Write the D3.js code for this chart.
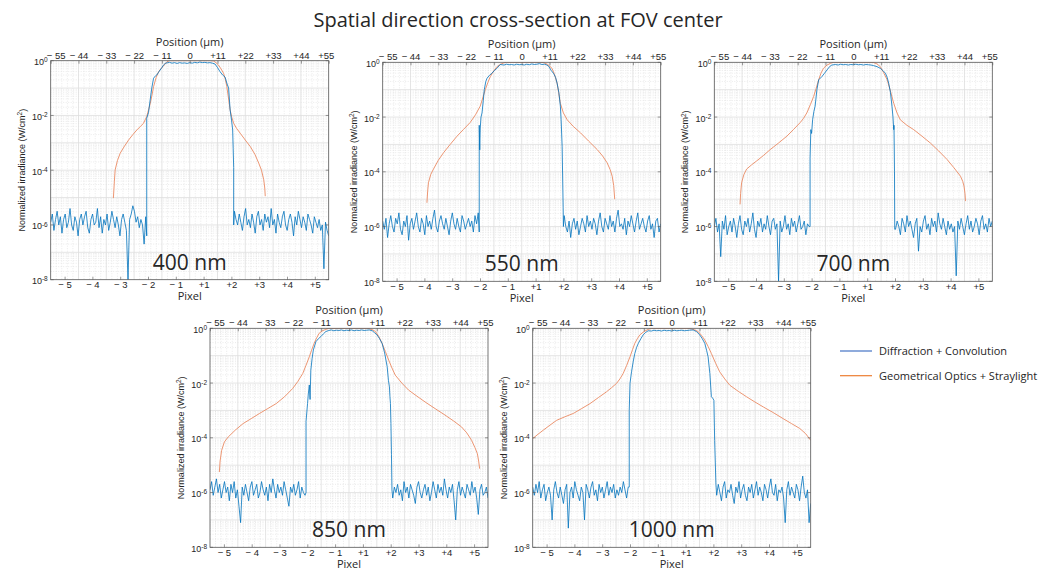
<!DOCTYPE html>
<html lang="en">
<head>
<meta charset="utf-8">
<title>Spatial direction cross-section at FOV center</title>
<script src="https://d3js.org/d3.v7.min.js"></script>
<style>
  body { margin: 0; background: #fff; }
  text { font-family: "Open Sans", sans-serif; fill: #262626; }
  .tick text { font-family: "Liberation Sans", Arial, sans-serif; font-size: 9.5px; fill: #262626; }
</style>
</head>
<body>
<script>
// ---- axis ticks ----
var umTicks = [-55, -44, -33, -22, -11, 0, 11, 22, 33, 44, 55];
var umTickLabels = ["\u2212 55", "\u2212 44", "\u2212 33", "\u2212 22", "\u2212 11", "0", "+11", "+22", "+33", "+44", "+55"];
var pixelTicks = [-49.5, -38.5, -27.5, -16.5, -5.5, 5.5, 16.5, 27.5, 38.5, 49.5]; // pixel centres in µm
var pixelTickLabels = ["\u2212 5", "\u2212 4", "\u2212 3", "\u2212 2", "\u2212 1", "+1", "+2", "+3", "+4", "+5"];
var yTickExp = [0, -2, -4, -6, -8];

var wavelengths = ["400 nm", "550 nm", "700 nm", "850 nm", "1000 nm"];

// ---- Geometrical Optics + Straylight: [position µm, log10 irradiance] ----
var orange400 = [[-30.2,-5.02],[-29.8,-4.4],[-29.5,-3.99],[-28.6,-3.65],[-27.5,-3.38],[-26,-3.15],[-24.2,-2.9],[-22.5,-2.7],[-20.9,-2.53],[-19.5,-2.4],[-18.3,-2.29],[-17,-2.04],[-16.3,-1.8],[-15.6,-1.56],[-14.9,-1.25],[-14.3,-0.95],[-13.3,-0.62],[-12.3,-0.4],[-11.3,-0.28],[-10.4,-0.2],[-9.6,-0.1],[-9,-0.04],[-8,0],[8,0],[9.4,-0.01],[10.4,-0.07],[11.4,-0.16],[12.4,-0.3],[13.4,-0.46],[14.1,-0.68],[14.7,-0.95],[15.4,-1.4],[16,-1.8],[16.7,-2.08],[17.4,-2.29],[18.6,-2.48],[20,-2.65],[22,-2.9],[24,-3.14],[25.8,-3.42],[27.3,-3.74],[28.4,-4.0],[29.3,-4.35],[29.7,-4.65],[29.9,-4.95]];
var orange550 = [[-37.5,-5.13],[-37.2,-4.7],[-36.9,-4.4],[-36,-4.1],[-34.9,-3.9],[-33,-3.58],[-30.9,-3.3],[-28.3,-3.0],[-25.6,-2.7],[-23,-2.45],[-20.4,-2.2],[-18.3,-1.92],[-16.4,-1.6],[-15.4,-1.3],[-14.4,-1.0],[-13.4,-0.74],[-12.4,-0.52],[-11.1,-0.32],[-9.8,-0.16],[-8.5,-0.08],[-7.1,-0.02],[-6,0],[7,0],[8.7,-0.01],[10.3,-0.08],[12,-0.22],[13,-0.45],[14,-0.76],[14.7,-1.15],[15.3,-1.5],[16.5,-1.85],[18,-2.1],[20.5,-2.35],[23.3,-2.58],[26.5,-2.88],[29.9,-3.19],[32,-3.42],[33.8,-3.67],[35,-3.92],[35.8,-4.16],[36.4,-4.5],[36.8,-5.0]];
var orange700 = [[-44.8,-5.19],[-44.6,-4.8],[-44.2,-4.4],[-43.3,-4.1],[-42.2,-3.9],[-40.3,-3.75],[-38.2,-3.6],[-35.5,-3.4],[-32.9,-3.19],[-29.6,-2.95],[-26.3,-2.7],[-23.6,-2.45],[-21,-2.2],[-19.7,-2.05],[-18.4,-1.85],[-17,-1.55],[-15.7,-1.25],[-14.7,-0.95],[-13.7,-0.64],[-12.8,-0.4],[-11.8,-0.22],[-10.4,-0.1],[-9.1,-0.04],[-8,0],[7,0],[8,-0.01],[9.4,-0.06],[10.7,-0.16],[12,-0.38],[13.4,-0.64],[14.7,-1.05],[16,-1.5],[17.3,-1.85],[18.6,-2.1],[21.2,-2.3],[23.9,-2.46],[27.2,-2.7],[30.5,-2.95],[33.8,-3.24],[37.1,-3.55],[39.8,-3.85],[42.4,-4.16],[43.3,-4.35],[43.8,-4.52],[44.2,-4.8],[44.4,-5.07]];
var orange850 = [[-51.3,-5.25],[-51,-4.85],[-50.4,-4.46],[-49.3,-4.15],[-47.8,-3.97],[-45,-3.72],[-41.9,-3.48],[-38.7,-3.3],[-35.4,-3.11],[-32.1,-2.93],[-28.8,-2.75],[-25.5,-2.5],[-22.3,-2.2],[-20.3,-1.95],[-18.3,-1.65],[-17,-1.35],[-15.7,-1.04],[-14.8,-0.8],[-13.8,-0.55],[-12.8,-0.35],[-11.8,-0.18],[-10.5,-0.09],[-9.2,-0.04],[-8,0],[7,0],[7.9,-0.01],[9.2,-0.05],[10.5,-0.12],[11.8,-0.3],[13.1,-0.55],[14.4,-0.85],[15.7,-1.16],[17,-1.45],[18.3,-1.71],[20.9,-2.0],[23.6,-2.26],[26.9,-2.48],[30.1,-2.69],[34,-2.93],[38,-3.17],[41.3,-3.38],[44.5,-3.6],[46.6,-3.82],[48.5,-4.09],[49.8,-4.35],[50.8,-4.58],[51.3,-4.85],[51.7,-5.13]];
var orange1000 = [[-55,-4.03],[-52.9,-3.87],[-50.8,-3.72],[-48.2,-3.54],[-45.5,-3.36],[-42.2,-3.23],[-38.9,-3.11],[-35.6,-2.93],[-32.3,-2.75],[-29,-2.53],[-25.8,-2.32],[-23.8,-2.17],[-21.8,-2.01],[-20.5,-1.85],[-19.2,-1.65],[-17.8,-1.35],[-16.5,-1.04],[-15.5,-0.78],[-14.6,-0.55],[-13.6,-0.38],[-12.6,-0.24],[-11,-0.12],[-9.3,-0.04],[-8,0],[6,0],[7.2,-0.01],[8.9,-0.05],[10.5,-0.12],[11.8,-0.26],[13.1,-0.43],[14.4,-0.66],[15.7,-0.92],[17.4,-1.28],[19,-1.59],[21,-1.85],[23,-2.08],[26.3,-2.3],[29.6,-2.5],[32.9,-2.69],[36.2,-2.87],[40.2,-3.08],[44.1,-3.3],[47.4,-3.48],[50.7,-3.66],[53,-3.85],[55,-4.09]];

// ---- Diffraction + Convolution, central part: [position µm, log10 irradiance] ----
var blueTop400 = [[-17,-6.4],[-17,-2.1],[-16.3,-1.9],[-15.6,-1.4],[-15,-1.0],[-14.3,-0.64],[-13.5,-0.55],[-13,-0.52],[-12.3,-0.42],[-11.7,-0.34],[-11,-0.25],[-10.4,-0.16],[-9.7,-0.1],[-9,-0.08],[-8,-0.06],[-7,-0.09],[-6,-0.07],[-5,-0.1],[-4,-0.07],[-3,-0.09],[-2,-0.08],[-1,-0.1],[0,-0.07],[1,-0.09],[2,-0.06],[3,-0.08],[4,-0.05],[5,-0.07],[6,-0.06],[7,-0.08],[8,-0.07],[9,-0.09],[10,-0.12],[11,-0.25],[12,-0.4],[13,-0.52],[14,-0.6],[14.8,-0.85],[15.4,-1.0],[16,-1.8],[16.6,-2.2],[17,-2.53],[17.2,-3.2],[17.4,-3.9],[17.4,-6.0]];
var blueTop550 = [[-16.8,-6.2],[-16.8,-2.3],[-16.6,-3.2],[-16.4,-2.4],[-16.1,-2.0],[-15.7,-1.85],[-15.2,-1.4],[-14.8,-1.0],[-14.2,-0.7],[-13.7,-0.58],[-12.8,-0.48],[-11.8,-0.4],[-10.8,-0.3],[-9.8,-0.22],[-8.5,-0.08],[-7,-0.1],[-6,-0.07],[-5,-0.09],[-4,-0.08],[-3,-0.1],[-2,-0.07],[-1,-0.09],[0,-0.08],[1,-0.1],[2,-0.07],[3,-0.09],[4,-0.06],[5,-0.08],[6,-0.07],[7,-0.05],[8,-0.08],[9,-0.07],[10,-0.1],[10.7,-0.15],[11.7,-0.3],[12.7,-0.42],[13.4,-0.55],[14,-0.76],[14.7,-1.1],[15.3,-1.6],[15.6,-2.1],[16,-3.07],[16.4,-5.3],[16.5,-6.0]];
var blueTop700 = [[-17.1,-6.0],[-17.1,-3.5],[-16.8,-2.46],[-16.5,-2.6],[-16.1,-2.1],[-15.6,-1.8],[-15.1,-1.6],[-14.4,-1.0],[-13.7,-0.64],[-12.4,-0.52],[-11.4,-0.4],[-10.4,-0.28],[-9.4,-0.16],[-8.5,-0.1],[-7,-0.08],[-6,-0.1],[-5,-0.07],[-4,-0.09],[-3,-0.08],[-2,-0.1],[-1,-0.08],[0,-0.09],[1,-0.07],[2,-0.09],[3,-0.08],[4,-0.1],[5,-0.08],[6,-0.09],[7,-0.1],[8,-0.12],[9.4,-0.16],[10.7,-0.22],[11.7,-0.3],[12.7,-0.4],[13.4,-0.55],[14,-0.76],[14.7,-1.1],[15.3,-1.6],[15.7,-2.0],[16,-2.46],[16.1,-2.3],[16.3,-4.0],[16.4,-6.1]];
var blueTop850 = [[-17,-6.0],[-17,-3.4],[-16.4,-2.75],[-16.1,-2.4],[-15.7,-2.07],[-15.4,-2.6],[-15.1,-1.53],[-14.6,-1.1],[-14.1,-0.79],[-13.1,-0.49],[-12.1,-0.38],[-11.1,-0.3],[-10.1,-0.2],[-9.2,-0.12],[-8,-0.08],[-7,-0.06],[-6,-0.09],[-5,-0.07],[-4,-0.08],[-3,-0.06],[-2,-0.09],[-1,-0.07],[0,-0.08],[1,-0.06],[2,-0.09],[3,-0.07],[4,-0.08],[5,-0.06],[6,-0.08],[7,-0.07],[8,-0.06],[9.2,-0.09],[10.1,-0.16],[11.1,-0.24],[12.1,-0.38],[13.1,-0.55],[14.1,-0.9],[15.1,-1.4],[15.6,-1.9],[16,-2.14],[16.2,-2.5],[16.4,-2.75],[16.6,-3.48],[16.8,-4.6],[17,-5.9]];
var blueTop1000 = [[-16.8,-5.8],[-16.8,-3.0],[-16.5,-2.01],[-15.9,-1.59],[-15.2,-1.2],[-14.6,-0.92],[-13.9,-0.7],[-13.2,-0.55],[-12.2,-0.38],[-11.3,-0.24],[-10.3,-0.15],[-9.3,-0.09],[-8,-0.1],[-7,-0.07],[-6,-0.09],[-5,-0.08],[-4,-0.1],[-3,-0.07],[-2,-0.09],[-1,-0.08],[0,-0.1],[1,-0.07],[2,-0.09],[3,-0.08],[4,-0.07],[5,-0.09],[6,-0.08],[7,-0.07],[8.5,-0.06],[9.8,-0.12],[11.1,-0.24],[12.1,-0.38],[13.1,-0.55],[13.8,-0.8],[14.4,-1.04],[15.1,-1.65],[15.7,-2.5],[16.2,-2.55],[16.7,-2.63],[17,-4.1],[17.5,-5.7]];

// ---- noise floor, log10 irradiance x10, sampled evenly between the edge and the frame ----
var floorLeft400 = [-59,-56,-62,-58,-55,-60,-57,-63,-58,-56,-61,-59,-54,-60,-62,-57,-59,-64,-58,-56,-60,-57,-55,-61,-63,-58,-56,-60,-59,-54,-61,-57,-63,-58,-60,-56,-62,-59,-55,-58,-61,-57,-60,-64,-58,-56,-59,-62,-80,-58,-56,-53,-55,-59,-57,-61,-58,-60,-67,-57];
var floorRight400 = [-55,-58,-60,-56,-59,-62,-57,-54,-60,-58,-61,-56,-59,-63,-57,-55,-60,-58,-62,-56,-59,-57,-61,-54,-60,-58,-63,-56,-59,-61,-57,-55,-60,-62,-58,-56,-59,-64,-57,-60,-55,-58,-61,-57,-59,-62,-56,-58,-60,-63,-57,-59,-61,-58,-62,-60,-76,-59,-62,-64];
var floorLeft550 = [-58,-61,-57,-64,-59,-56,-60,-62,-57,-59,-55,-61,-63,-58,-60,-56,-65,-59,-57,-61,-58,-55,-60,-62,-57,-59,-63,-56,-60,-58,-61,-57,-54,-60,-62,-58,-56,-59,-61,-57,-60,-63,-58,-55,-59,-61,-57,-60,-62,-56,-58,-61,-59,-57,-60,-58,-62,-56,-59,-55];
var floorRight550 = [-56,-60,-62,-58,-64,-59,-57,-61,-58,-63,-60,-57,-59,-62,-56,-60,-58,-61,-57,-59,-63,-58,-55,-60,-62,-57,-59,-61,-56,-60,-58,-62,-57,-54,-60,-59,-61,-57,-63,-58,-60,-56,-59,-62,-58,-55,-61,-59,-57,-60,-62,-58,-56,-61,-59,-64,-58,-57,-62,-59];
var floorLeft700 = [-60,-57,-62,-59,-71,-58,-61,-56,-63,-60,-58,-62,-57,-60,-64,-59,-56,-61,-63,-58,-60,-57,-62,-59,-55,-61,-64,-58,-60,-57,-62,-59,-61,-56,-60,-63,-58,-57,-61,-59,-80,-58,-62,-60,-56,-61,-59,-63,-57,-60,-58,-62,-59,-56,-61,-60,-58,-63,-59,-60];
var floorRight700 = [-61,-58,-60,-63,-57,-59,-62,-56,-60,-58,-61,-64,-59,-57,-69,-60,-62,-58,-56,-61,-59,-63,-57,-60,-58,-62,-55,-59,-61,-57,-60,-63,-58,-61,-59,-62,-60,-78,-58,-61,-57,-60,-63,-59,-56,-61,-58,-62,-60,-57,-59,-63,-58,-56,-61,-59,-62,-57,-60,-58];
var floorLeft850 = [-59,-56,-61,-58,-55,-60,-57,-62,-59,-56,-60,-58,-63,-57,-60,-56,-62,-59,-65,-71,-58,-61,-57,-60,-63,-58,-56,-61,-59,-57,-62,-60,-56,-59,-61,-58,-63,-57,-60,-55,-59,-62,-57,-60,-58,-61,-56,-59,-62,-65,-58,-60,-57,-61,-59,-56,-62,-58,-60,-61];
var floorRight850 = [-62,-58,-60,-57,-61,-59,-63,-56,-60,-58,-62,-57,-59,-61,-64,-58,-56,-60,-62,-59,-57,-61,-58,-63,-60,-56,-59,-62,-57,-60,-58,-61,-55,-59,-62,-58,-60,-57,-63,-70,-59,-56,-61,-58,-60,-62,-57,-59,-61,-56,-60,-58,-62,-68,-59,-57,-61,-60,-58,-62];
var floorLeft1000 = [-58,-61,-57,-60,-56,-62,-59,-57,-63,-60,-58,-61,-70,-59,-56,-60,-62,-58,-61,-64,-59,-57,-73,-60,-58,-62,-56,-59,-61,-63,-58,-60,-70,-57,-59,-62,-58,-56,-61,-59,-63,-57,-60,-58,-62,-59,-56,-61,-58,-60,-57,-62,-59,-61,-58,-60,-56,-59,-62,-58];
var floorRight1000 = [-61,-57,-60,-63,-58,-56,-62,-59,-60,-57,-61,-64,-58,-60,-56,-62,-59,-57,-61,-63,-58,-60,-57,-62,-59,-56,-61,-58,-60,-63,-57,-59,-62,-58,-55,-60,-61,-57,-63,-59,-60,-58,-62,-71,-59,-56,-61,-58,-60,-62,-57,-59,-63,-58,-54,-60,-62,-59,-71,-64];

var orangeSeries = [orange400, orange550, orange700, orange850, orange1000];
var blueTops = [blueTop400, blueTop550, blueTop700, blueTop850, blueTop1000];
var floorsLeft = [floorLeft400, floorLeft550, floorLeft700, floorLeft850, floorLeft1000];
var floorsRight = [floorRight400, floorRight550, floorRight700, floorRight850, floorRight1000];

// panel placement
var W = 278, H = 219;
var origins = [[50.7, 60.7], [382.7, 62.3], [714.3, 62.3], [210, 328.3], [532.7, 328.3]];

var blueColor = "#0072BD", orangeColor = "#EA8A63";

var svg = d3.select("body").append("svg")
  .attr("width", 1061).attr("height", 570);

svg.append("text")
  .attr("x", 518).attr("y", 27)
  .attr("text-anchor", "middle")
  .style("font-size", "20px")
  .text("Spatial direction cross-section at FOV center");

function floorPoints(vals, x0, x1) {
  return vals.map(function(v, i) { return [x0 + i * (x1 - x0) / (vals.length - 1), v / 10]; });
}

origins.forEach(function(o, i) {
  var g = svg.append("g").attr("transform", "translate(" + o[0] + "," + o[1] + ")");
  var x = d3.scaleLinear().domain([-55, 55]).range([0, W]);
  var y = d3.scaleLog().domain([1e-8, 1]).range([H, 0]);

  // minor grid
  var minorX = d3.range(-55, 55.01, 2.2).filter(function(v) { return Math.abs(v / 11 - Math.round(v / 11)) > 0.01; });
  var minorY = [];
  for (var e = -8; e < 0; e++) for (var k = 2; k <= 9; k++) minorY.push(k * Math.pow(10, e));
  g.selectAll(".mx").data(minorX).enter().append("line")
    .attr("x1", x).attr("x2", x).attr("y1", 0).attr("y2", H)
    .attr("stroke", "#d4d4d4").attr("stroke-width", 0.5).attr("stroke-dasharray", "1,1.5");
  g.selectAll(".my").data(minorY).enter().append("line")
    .attr("y1", y).attr("y2", y).attr("x1", 0).attr("x2", W)
    .attr("stroke", "#d4d4d4").attr("stroke-width", 0.5).attr("stroke-dasharray", "1,1.5");

  // major grid
  g.selectAll(".gx").data(umTicks.slice(1, -1)).enter().append("line")
    .attr("x1", x).attr("x2", x).attr("y1", 0).attr("y2", H)
    .attr("stroke", "#dedede").attr("stroke-width", 0.8);
  g.selectAll(".gy").data(d3.range(-7, 0).map(function(e) { return Math.pow(10, e); })).enter().append("line")
    .attr("y1", y).attr("y2", y).attr("x1", 0).attr("x2", W)
    .attr("stroke", "#dedede").attr("stroke-width", 0.8);

  g.append("clipPath").attr("id", "clip" + i)
    .append("rect").attr("width", W).attr("height", H);

  var line = d3.line()
    .x(function(d) { return x(d[0]); })
    .y(function(d) { return y(Math.pow(10, d[1])); });

  var tops = blueTops[i];
  var edgeL = tops[0][0], edgeR = tops[tops.length - 1][0];
  var blue = floorPoints(floorsLeft[i], -55, edgeL - 0.4)
    .concat(tops)
    .concat(floorPoints(floorsRight[i], edgeR + 0.3, 55));

  var plot = g.append("g").attr("clip-path", "url(#clip" + i + ")");
  plot.append("path").datum(orangeSeries[i])
    .attr("d", line).attr("fill", "none")
    .attr("stroke", orangeColor).attr("stroke-width", 0.9);
  plot.append("path").datum(blue)
    .attr("d", line).attr("fill", "none")
    .attr("stroke", blueColor).attr("stroke-width", 0.8).attr("stroke-linejoin", "round");

  // axes
  var top = g.append("g")
    .call(d3.axisTop(x).tickValues(umTicks)
      .tickFormat(function(d, j) { return umTickLabels[j]; })
      .tickSizeInner(-3).tickSizeOuter(0).tickPadding(2));
  var bottom = g.append("g").attr("transform", "translate(0," + H + ")")
    .call(d3.axisBottom(x).tickValues(pixelTicks)
      .tickFormat(function(d, j) { return pixelTickLabels[j]; })
      .tickSizeInner(-3).tickSizeOuter(0).tickPadding(2));
  [top, bottom].forEach(function(a) {
    a.select(".domain").remove();
    a.selectAll(".tick line").attr("stroke", "#555").attr("stroke-width", 0.6);
  });
  // end labels pulled slightly inside the frame, as in the original
  top.selectAll(".tick text").attr("x", function(d, j) {
    return j === 0 ? 5 : (j === umTicks.length - 1 ? -3 : 0);
  });

  var yt = g.selectAll(".ytick").data(yTickExp).enter().append("g")
    .attr("transform", function(e) { return "translate(0," + y(Math.pow(10, e)) + ")"; });
  yt.append("line").attr("x1", 0).attr("x2", 3).attr("stroke", "#555").attr("stroke-width", 0.6);
  yt.append("line").attr("x1", W).attr("x2", W - 3).attr("stroke", "#555").attr("stroke-width", 0.6);
  var ytxt = yt.append("text")
    .attr("x", -3).attr("dy", "0.5em").attr("text-anchor", "end")
    .style("font-family", "Liberation Sans, Arial, sans-serif").style("font-size", "9px");
  ytxt.append("tspan").text("10");
  ytxt.append("tspan").attr("dy", "-0.45em").style("font-size", "6.5px").text(function(e) { return e; });

  g.append("rect").attr("width", W).attr("height", H)
    .attr("fill", "none").attr("stroke", "#555").attr("stroke-width", 0.8);

  g.append("text").attr("x", W / 2).attr("y", -14.5).attr("text-anchor", "middle")
    .style("font-size", "11px").text("Position (\u00b5m)");
  g.append("text").attr("x", W / 2).attr("y", H + 20.5).attr("text-anchor", "middle")
    .style("font-size", "11px").text("Pixel");

  var yl = g.append("text")
    .attr("transform", "translate(-26," + (H / 2) + ") rotate(-90)")
    .attr("text-anchor", "middle")
    .style("font-family", "Liberation Sans, Arial, sans-serif").style("font-size", "9px");
  yl.append("tspan").text("Normalized irradiance (W/cm");
  yl.append("tspan").attr("dy", "-0.4em").style("font-size", "6.5px").text("2");
  yl.append("tspan").attr("dy", "0.4em").text(")");

  g.append("text").attr("x", W / 2).attr("y", H - 10).attr("text-anchor", "middle")
    .style("font-size", "21px").text(wavelengths[i]);
});

// legend
var legend = [["Diffraction + Convolution", "#4472C4"], ["Geometrical Optics + Straylight", "#ED7D31"]];
var lg = svg.selectAll(".legend").data(legend).enter().append("g")
  .attr("transform", function(d, i) { return "translate(840," + (351 + i * 24.7) + ")"; });
lg.append("line").attr("x1", 0).attr("x2", 32).attr("stroke", function(d) { return d[1]; }).attr("stroke-width", 1.2);
lg.append("text").attr("x", 39).attr("dy", "0.35em").style("font-size", "11px").text(function(d) { return d[0]; });
</script>
</body>
</html>
